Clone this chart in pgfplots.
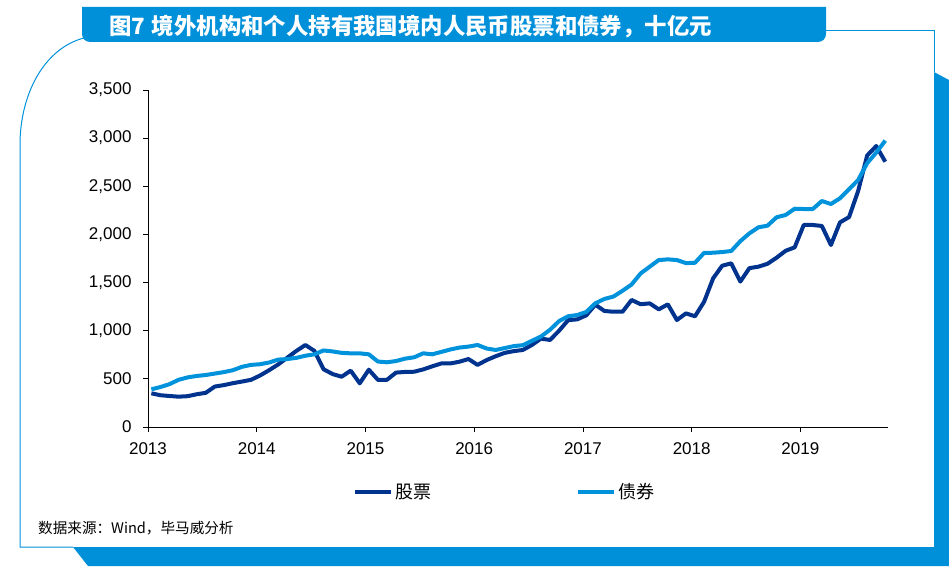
\documentclass[border=0pt]{standalone}
\usepackage{fontspec}
\usepackage{pgfplots}
\usepackage{pgfplotstable}
\pgfplotsset{compat=1.18}
\setmainfont{Liberation Sans}
\newfontfamily\cjk{Noto Sans CJK SC}
\definecolor{navy}{RGB}{0,51,141}
\definecolor{sky}{RGB}{0,146,219}
\definecolor{barblue}{RGB}{0,144,218}

\pgfplotstableread{
m v
0 350
1 330
2 322
3 315
4 320
5 340
6 355
7 420
8 435
9 455
10 472
11 490
12 535
13 590
14 650
15 720
16 790
17 852
18 790
19 600
20 550
21 522
22 585
23 454
24 595
25 490
26 490
27 565
28 572
29 574
30 598
31 630
32 660
33 660
34 678
35 706
36 645
37 695
38 735
39 770
40 788
41 800
42 852
43 918
44 904
45 1000
46 1110
47 1118
48 1160
49 1270
50 1205
51 1197
52 1197
53 1319
54 1275
55 1284
56 1222
57 1274
58 1111
59 1180
60 1150
61 1300
62 1544
63 1675
64 1700
65 1510
66 1650
67 1665
68 1695
69 1758
70 1830
71 1866
72 2098
73 2098
74 2088
75 1890
76 2125
77 2180
78 2450
79 2820
80 2918
81 2755
}\stocks

\pgfplotstableread{
m v
0 391
1 415
2 445
3 490
4 515
5 530
6 540
7 555
8 570
9 590
10 625
11 645
12 652
13 670
14 700
15 706
16 718
17 740
18 755
19 795
20 785
21 770
22 765
23 765
24 755
25 680
26 672
27 685
28 710
29 724
30 765
31 755
32 780
33 805
34 825
35 835
36 852
37 815
38 800
39 820
40 840
41 850
42 895
43 940
44 1010
45 1100
46 1150
47 1163
48 1195
49 1285
50 1330
51 1355
52 1415
53 1480
54 1595
55 1665
56 1734
57 1741
58 1734
59 1702
60 1706
61 1808
62 1810
63 1817
64 1828
65 1930
66 2011
67 2074
68 2091
69 2178
70 2202
71 2267
72 2264
73 2264
74 2347
75 2316
76 2375
77 2470
78 2565
79 2740
80 2850
81 2975
}\bonds

\begin{document}
\begin{tikzpicture}[x=1pt,y=1pt]
\path[use as bounding box] (0,0) rectangle (949,568);
% frame decorations
\fill[barblue] (934,496) -- (949,488) -- (949,2) -- (88,2) -- (73,21) -- (934,21) -- cycle;
\draw[sky, line width=1pt] (84,530) .. controls (45,520) and (20,475) .. (20,423) -- (20,21) -- (73,21);
\draw[sky, line width=1pt] (826,537) -- (934,537) -- (934,496);
\fill[barblue] (82,561) -- (82,534) arc(180:270:8) -- (818,526) arc(270:360:8) -- (826,561) -- cycle;
\node[anchor=base west, text=white, inner sep=0pt, font=\cjk\bfseries\fontsize{22.4}{25}\selectfont] at (109,533) {图7\hspace{0.3em}境外机构和个人持有我国境内人民币股票和债券，十亿元};
\node[anchor=base west, inner sep=0pt, font=\cjk\fontsize{14.6}{16}\selectfont] at (38,35) {数据来源：Wind，毕马威分析};

\begin{axis}[
  at={(148pt,141pt)}, anchor=south west,
  scale only axis, width=740pt, height=337pt,
  xmin=-0.37, xmax=81.3, ymin=0, ymax=3500,
  axis lines=left, axis line style={-, line width=0.8pt},
  xtick={-0.37,11.63,23.63,35.63,47.63,59.63,71.63},
  xticklabels={2013,2014,2015,2016,2017,2018,2019},
  ytick={0,500,1000,1500,2000,2500,3000,3500},
  tick align=outside, major tick length=5pt,
  tick style={black, line width=0.8pt},
  ticklabel style={font=\fontsize{17}{19}\selectfont},
  yticklabel style={xshift=-8pt},
  xticklabel style={yshift=-7pt},
  /pgf/number format/assume math mode=true,
  /pgf/number format/1000 sep={,},
  scaled y ticks=false,
  legend columns=2,
  legend style={at={(0.4818,-0.193)}, anchor=center, draw=none, fill=none,
    font=\cjk\fontsize{18}{20}\selectfont,
    /tikz/every even column/.append style={column sep=143pt}},
  legend image code/.code={\draw[#1] (0pt,0pt) -- (36pt,0pt);},
]
\addplot[navy, line width=4pt, line join=round] table[x=m, y=v] {\stocks};
\addlegendentry{股票}
\addplot[sky, line width=4pt, line join=round] table[x=m, y=v] {\bonds};
\addlegendentry{债券}
\end{axis}
\end{tikzpicture}
\end{document}
